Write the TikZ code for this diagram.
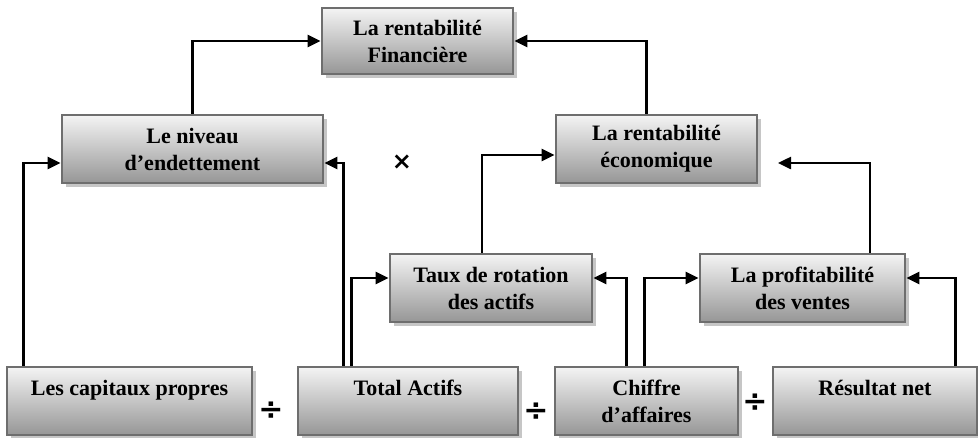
\documentclass[tikz,border=0pt]{standalone}
\usepackage{fontspec}
\setmainfont{Liberation Serif}
\newfontfamily\symfont{DejaVu Sans}
\usetikzlibrary{shadows,arrows.meta}
\definecolor{boxline}{HTML}{6E6E6E}
\definecolor{boxtop}{HTML}{F4F4F4}
\definecolor{boxbot}{HTML}{969696}
\definecolor{boxshade}{HTML}{C6C6C6}
\begin{document}
\begin{tikzpicture}[x=1pt, y=-1pt,
  bloc/.style={draw=boxline, line width=2.8pt, top color=boxtop, bottom color=boxbot,
    drop shadow={shadow xshift=3.5pt, shadow yshift=-3.5pt, fill=boxshade, opacity=1},
    align=center, inner sep=0pt, font=\bfseries\fontsize{22}{27}\selectfont},
  fleche/.style={line width=2.5pt, -{Triangle[length=13pt, width=12pt]}},
  signe/.style={font=\symfont\bfseries\fontsize{30}{30}\selectfont}]
\useasboundingbox (0,0) rectangle (978,437);

% ratios
\node[bloc, minimum width=191pt, minimum height=66pt] (fin) at (417.5,41) {La rentabilité\\Financière};
\node[bloc, minimum width=261pt, minimum height=68pt] (niv) at (192.5,149) {Le niveau\\d’endettement};
\node[bloc, minimum width=201pt, minimum height=68pt] (eco) at (656.5,149) {La rentabilité\\économique};
\node[bloc, minimum width=202pt, minimum height=68pt] (taux) at (491,288) {Taux de rotation\\des actifs};
\node[bloc, minimum width=205pt, minimum height=68pt] (prof) at (802.5,288) {La profitabilité\\des ventes};

% postes du bilan et du compte de resultat
\node[bloc, minimum width=245pt, minimum height=68pt] (cap) at (129.5,401) {Les capitaux propres\\~};
\node[bloc, minimum width=220pt, minimum height=68pt] (tot) at (408,401) {Total Actifs\\~};
\node[bloc, minimum width=183pt, minimum height=68pt] (chi) at (646.5,401) {Chiffre\\d’affaires};
\node[bloc, minimum width=204pt, minimum height=68pt] (res) at (875,401) {Résultat net\\~};

\node[signe, font=\symfont\bfseries\fontsize{24}{24}\selectfont] (fois) at (402,162) {×};
\node[signe] (div1) at (271,411) {÷};
\node[signe] (div2) at (536,412) {÷};
\node[signe] (div3) at (755,403) {÷};

\coordinate (ecoin) at (778,163);

\draw[fleche] (niv.north) |- (fin.west);
\draw[fleche] ([xshift=-10pt]eco.north) |- (fin.east);
\draw[fleche] ([xshift=18pt]cap.north west) |- ([yshift=-14pt]niv.west);
\draw[fleche] ([xshift=47pt]tot.north west) |- ([yshift=-14pt]niv.east);
\draw[fleche] ([xshift=55pt]tot.north west) |- ([yshift=10pt]taux.west);
\draw[fleche] ([xshift=73pt]chi.north west) |- ([yshift=10pt]taux.east);
\draw[fleche] ([xshift=91pt]chi.north west) |- ([yshift=10pt]prof.west);
\draw[fleche] ([xshift=184pt]res.north west) |- ([yshift=10pt]prof.east);
\draw[fleche] ([xshift=-9pt]taux.north) |- ([yshift=-6pt]eco.west);
\draw[fleche] ([xshift=67.5pt]prof.north) |- (ecoin);
\end{tikzpicture}
\end{document}
